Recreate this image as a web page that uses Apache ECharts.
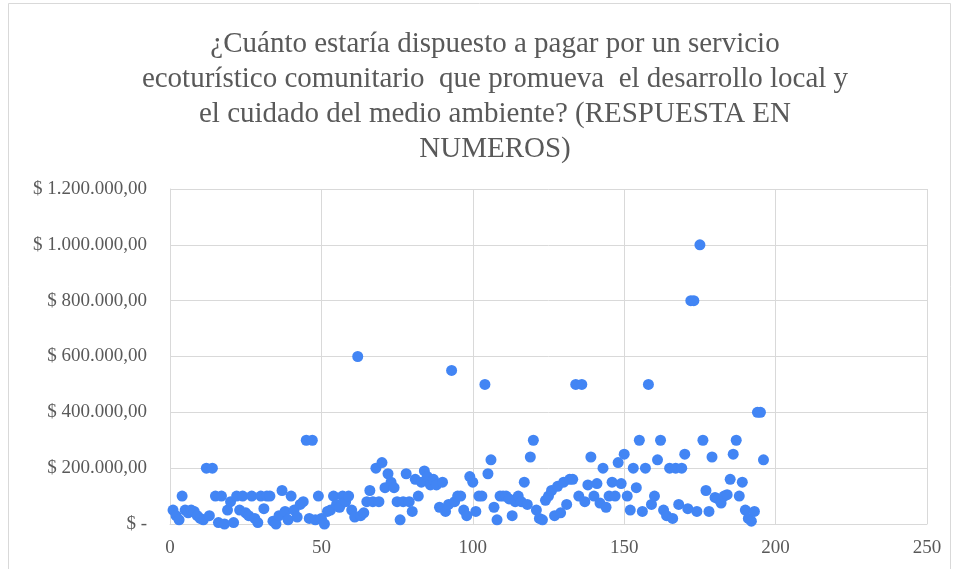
<!DOCTYPE html>
<html>
<head>
<meta charset="utf-8">
<script src="https://cdn.jsdelivr.net/npm/echarts@6/dist/echarts.min.js"></script>
<style>
  html, body { margin: 0; padding: 0; background: #fff; }
  #scatterChart { width: 958px; height: 569px; }
</style>
</head>
<body>
<div id="scatterChart"></div>
<script>
  // respuestas en pesos, una por encuestado (x = numero de respuesta)
  let pagos = [
    50000, 30000, 15000, 100000, 50000, 40000, 50000, 45000, 30000, 20000,
    15000, 200000, 30000, 200000, 100000, 5000, 100000, 0, 50000, 80000,
    5000, 100000, 50000, 100000, 40000, 30000, 100000, 20000, 5000, 100000,
    55000, 100000, 100000, 10000, 0, 30000, 120000, 45000, 15000, 100000,
    50000, 25000, 70000, 80000, 300000, 20000, 300000, 15000, 100000, 20000,
    0, 45000, 50000, 100000, 70000, 60000, 100000, 80000, 100000, 50000,
    25000, 600000, 30000, 40000, 80000, 120000, 80000, 200000, 80000, 220000,
    130000, 180000, 150000, 130000, 80000, 15000, 80000, 180000, 80000, 45000,
    160000, 100000, 150000, 190000, 170000, 140000, 160000, 140000, 60000, 150000,
    45000, 70000, 550000, 80000, 100000, 100000, 50000, 30000, 170000, 150000,
    45000, 100000, 100000, 500000, 180000, 230000, 60000, 15000, 100000, 100000,
    100000, 90000, 30000, 80000, 100000, 80000, 150000, 70000, 240000, 300000,
    50000, 20000, 15000, 85000, 100000, 120000, 30000, 135000, 40000, 150000,
    70000, 160000, 160000, 500000, 100000, 500000, 80000, 140000, 240000, 100000,
    145000, 75000, 200000, 60000, 100000, 150000, 100000, 220000, 145000, 250000,
    100000, 50000, 200000, 130000, 300000, 45000, 200000, 500000, 70000, 100000,
    230000, 300000, 50000, 30000, 200000, 20000, 200000, 70000, 200000, 250000,
    55000, 800000, 800000, 45000, 1000000, 300000, 120000, 45000, 240000, 95000,
    90000, 75000, 100000, 105000, 160000, 250000, 300000, 100000, 150000, 50000,
    20000, 10000, 45000, 400000, 400000, 230000
  ]
  let title = '¿Cuánto estaría dispuesto a pagar por un servicio\n' +
    'ecoturístico comunitario  que promueva  el desarrollo local y\n' +
    'el cuidado del medio ambiente? (RESPUESTA EN\n' +
    'NUMEROS)'

  let points = pagos.map(function (v, i) { return [i + 1, v] })

  // formato contable: $ 1.200.000,00 y "$ -" para cero
  function moneda(value) {
    if (value === 0) {
      return '$ -'
    }
    let s = String(Math.round(value)).replace(/\B(?=(\d{3})+(?!\d))/g, '.')
    return '$ ' + s + ',00'
  }

  const option = {
    backgroundColor: '#fff',
    textStyle: { fontFamily: 'Liberation Serif' },
    title: {
      text: title,
      left: 490,
      top: 22,
      textAlign: 'center',
      textStyle: {
        fontFamily: 'Liberation Serif',
        fontWeight: 'normal',
        fontSize: 29,
        lineHeight: 35,
        color: '#595959'
      }
    },
    graphic: [{
      type: 'rect',
      shape: { x: 8.5, y: 3.5, width: 942, height: 580 },
      style: { fill: 'none', stroke: '#d9d9d9', lineWidth: 1 },
      silent: true
    }],
    grid: {
      left: 170,
      right: 31,
      top: 189,
      bottom: 45
    },
    xAxis: {
      type: 'value',
      min: 0,
      max: 250,
      interval: 50,
      axisLine: { show: true, lineStyle: { color: '#d9d9d9' } },
      axisTick: { show: false },
      splitLine: { show: true, lineStyle: { color: '#d9d9d9' } },
      axisLabel: {
        color: '#595959',
        fontSize: 19,
        margin: 15,
        fontFamily: 'Liberation Serif'
      }
    },
    yAxis: {
      type: 'value',
      min: 0,
      max: 1200000,
      interval: 200000,
      axisLine: { show: true, lineStyle: { color: '#d9d9d9' } },
      axisTick: { show: false },
      splitLine: { show: true, lineStyle: { color: '#d9d9d9' } },
      axisLabel: {
        color: '#595959',
        fontSize: 19,
        margin: 23,
        fontFamily: 'Liberation Serif',
        formatter: moneda
      }
    },
    series: [{
      type: 'scatter',
      symbol: 'circle',
      symbolSize: 11,
      itemStyle: { color: '#4285f4', opacity: 1 },
      data: points
    }]
  }

  let eChart = echarts.init(document.getElementById('scatterChart'), null, { renderer: 'canvas' })
  eChart.setOption(option)
</script>
</body>
</html>
